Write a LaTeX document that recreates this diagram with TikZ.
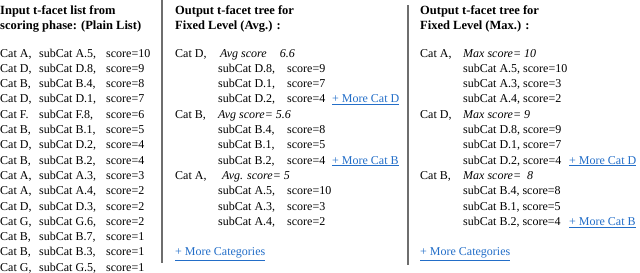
\documentclass[tikz,border=0pt]{standalone}
\usepackage{fontspec}
\setmainfont{Liberation Serif}
\definecolor{linkblue}{RGB}{35,110,200}
\definecolor{rulegray}{RGB}{110,110,110}
\newcommand{\rowy}[1]{57+(#1-1)*15.3}
\begin{document}
\begin{tikzpicture}[x=1pt,y=-1pt,
  every node/.style={inner sep=0pt, anchor=base west, font=\fontsize{12}{14}\selectfont},
  ttl/.style={font=\fontsize{12.5}{15}\selectfont\bfseries},
  itx/.style={font=\fontsize{12}{14}\selectfont\itshape},
  lnk/.style={text=linkblue},
  divider/.style={draw=rulegray, line width=1.1pt}]
\useasboundingbox (0,0) rectangle (640,273);
% dividers
\draw[divider] (162,0) -- (162,263);
\draw[divider] (408,5) -- (408,265);
% ---------- left column ----------
\node[ttl] (t1a) at (0,14) {Input t-facet list from};
\node[ttl] (t1b) at (0,29) {scoring phase: (Plain List)};
\foreach \c/\s/\v [count=\i] in {
  {Cat A,}/{subCat A.5,}/{score=10},
  {Cat D,}/{subCat D.8,}/{score=9},
  {Cat B,}/{subCat B.4,}/{score=8},
  {Cat D,}/{subCat D.1,}/{score=7},
  {Cat F.}/{subCat F.8,}/{score=6},
  {Cat B,}/{subCat B.1,}/{score=5},
  {Cat D,}/{subCat D.2,}/{score=4},
  {Cat B,}/{subCat B.2,}/{score=4},
  {Cat A,}/{subCat A.3,}/{score=3},
  {Cat A,}/{subCat A.4,}/{score=2},
  {Cat D,}/{subCat D.3,}/{score=2},
  {Cat G,}/{subCat G.6,}/{score=2},
  {Cat B,}/{subCat B.7,}/{score=1},
  {Cat B,}/{subCat B.3,}/{score=1},
  {Cat G,}/{subCat G.5,}/{score=1}}{
  \node (lc\i) at (0,{\rowy{\i}}) {\c};
  \node (ls\i) at (39,{\rowy{\i}}) {\s};
  \node (lv\i) at (106,{\rowy{\i}}) {\v};
}
% ---------- middle column ----------
\node[ttl] (t2a) at (175,14) {Output t-facet tree for};
\node[ttl] (t2b) at (175,29) {Fixed Level (Avg.) :};
\node (mcD) at (175,{\rowy{1}}) {Cat D,};
\node[itx] (maD) at (220,{\rowy{1}}) {Avg score\hspace{1.1em}6.6};
\node (msD8) at (218,{\rowy{2}}) {subCat D.8,};
\node (mvD8) at (287,{\rowy{2}}) {score=9};
\node (msD1) at (218,{\rowy{3}}) {subCat D.1,};
\node (mvD1) at (287,{\rowy{3}}) {score=7};
\node (msD2) at (218,{\rowy{4}}) {subCat D.2,};
\node (mvD2) at (287,{\rowy{4}}) {score=4};
\node[lnk] (mmD) at (332,{\rowy{4}}) {\underline{+ More Cat D}};
\node (mcB) at (175,{\rowy{5}}) {Cat B,};
\node[itx] (maB) at (218,{\rowy{5}}) {Avg score= 5.6};
\node (msB4) at (218,{\rowy{6}}) {subCat B.4,};
\node (mvB4) at (287,{\rowy{6}}) {score=8};
\node (msB1) at (218,{\rowy{7}}) {subCat B.1,};
\node (mvB1) at (287,{\rowy{7}}) {score=5};
\node (msB2) at (218,{\rowy{8}}) {subCat B.2,};
\node (mvB2) at (287,{\rowy{8}}) {score=4};
\node[lnk] (mmB) at (332,{\rowy{8}}) {\underline{+ More Cat B}};
\node (mcA) at (175,{\rowy{9}}) {Cat A,};
\node[itx] (maA) at (222,{\rowy{9}}) {Avg. score= 5};
\node (msA5) at (218,{\rowy{10}}) {subCat A.5,};
\node (mvA5) at (287,{\rowy{10}}) {score=10};
\node (msA3) at (218,{\rowy{11}}) {subCat A.3,};
\node (mvA3) at (287,{\rowy{11}}) {score=3};
\node (msA4) at (218,{\rowy{12}}) {subCat A.4,};
\node (mvA4) at (287,{\rowy{12}}) {score=2};
\node[lnk] (mmAll) at (175,{\rowy{14}}) {\underline{+ More Categories}};
% ---------- right column ----------
\node[ttl] (t3a) at (420,14) {Output t-facet tree for};
\node[ttl] (t3b) at (420,29) {Fixed Level (Max.) :};
\node (rcA) at (420,{\rowy{1}}) {Cat A,};
\node[itx] (raA) at (463,{\rowy{1}}) {Max score= 10};
\node (rA5) at (463,{\rowy{2}}) {subCat A.5, score=10};
\node (rA3) at (463,{\rowy{3}}) {subCat A.3, score=3};
\node (rA4) at (463,{\rowy{4}}) {subCat A.4, score=2};
\node (rcD) at (420,{\rowy{5}}) {Cat D,};
\node[itx] (raD) at (463,{\rowy{5}}) {Max score= 9};
\node (rD8) at (463,{\rowy{6}}) {subCat D.8, score=9};
\node (rD1) at (463,{\rowy{7}}) {subCat D.1, score=7};
\node (rD2) at (463,{\rowy{8}}) {subCat D.2, score=4};
\node[lnk] (rmD) at (569,{\rowy{8}}) {\underline{+ More Cat D}};
\node (rcB) at (420,{\rowy{9}}) {Cat B,};
\node[itx] (raB) at (463,{\rowy{9}}) {Max score= \ 8};
\node (rB4) at (463,{\rowy{10}}) {subCat B.4, score=8};
\node (rB1) at (463,{\rowy{11}}) {subCat B.1, score=5};
\node (rB2) at (463,{\rowy{12}}) {subCat B.2, score=4};
\node[lnk] (rmB) at (569,{\rowy{12}}) {\underline{+ More Cat B}};
\node[lnk] (rmAll) at (420,{\rowy{14}}) {\underline{+ More Categories}};
\end{tikzpicture}
\end{document}
